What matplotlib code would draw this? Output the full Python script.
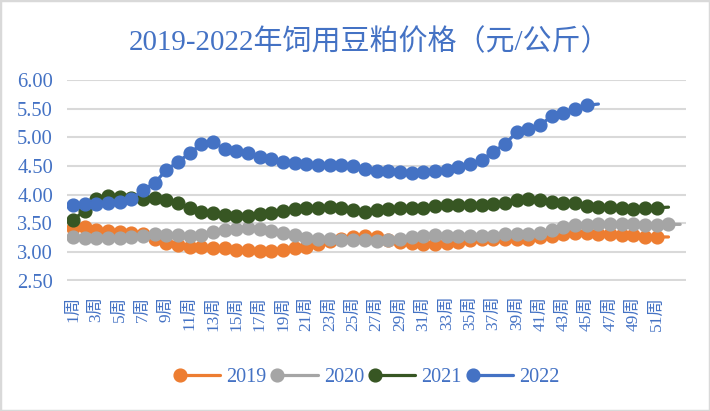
import matplotlib
matplotlib.use("Agg")
import matplotlib.pyplot as plt
from matplotlib.legend_handler import HandlerBase
from matplotlib.lines import Line2D
from matplotlib.patches import Rectangle

weeks = [f"{i}周" for i in range(1, 53)] + [""]

y2019 = [3.42, 3.43, 3.38, 3.36, 3.35, 3.33, 3.31, 3.22, 3.16, 3.12,
         3.09, 3.09, 3.07, 3.06, 3.04, 3.03, 3.02, 3.02, 3.03, 3.06,
         3.09, 3.14, 3.19, 3.23, 3.26, 3.28, 3.26, 3.20, 3.17, 3.15,
         3.13, 3.13, 3.16, 3.17, 3.20, 3.22, 3.23, 3.23, 3.23, 3.23,
         3.26, 3.28, 3.31, 3.33, 3.33, 3.32, 3.31, 3.29, 3.29, 3.26,
         3.26, 3.26]
y2020 = [3.26, 3.25, 3.25, 3.25, 3.25, 3.26, 3.27, 3.31, 3.30, 3.29,
         3.27, 3.29, 3.35, 3.38, 3.40, 3.41, 3.40, 3.37, 3.33, 3.29,
         3.25, 3.22, 3.22, 3.21, 3.21, 3.21, 3.19, 3.21, 3.23, 3.26,
         3.28, 3.29, 3.28, 3.27, 3.27, 3.27, 3.27, 3.31, 3.32, 3.32,
         3.33, 3.39, 3.44, 3.47, 3.47, 3.48, 3.48, 3.48, 3.48, 3.47,
         3.47, 3.48, 3.48]
y2021 = [3.55, 3.72, 3.93, 3.97, 3.96, 3.94, 3.93, 3.94, 3.91, 3.85,
         3.77, 3.70, 3.67, 3.65, 3.62, 3.63, 3.66, 3.68, 3.72, 3.75,
         3.76, 3.77, 3.78, 3.77, 3.73, 3.70, 3.73, 3.75, 3.76, 3.76,
         3.77, 3.80, 3.81, 3.81, 3.82, 3.82, 3.83, 3.86, 3.91, 3.93,
         3.90, 3.87, 3.86, 3.85, 3.80, 3.79, 3.78, 3.76, 3.75, 3.76,
         3.77, 3.78]
y2022 = [3.81, 3.83, 3.84, 3.86, 3.87, 3.92, 4.08, 4.20, 4.43, 4.57,
         4.72, 4.88, 4.91, 4.80, 4.76, 4.72, 4.66, 4.62, 4.56, 4.55,
         4.53, 4.52, 4.52, 4.52, 4.50, 4.45, 4.41, 4.42, 4.40, 4.38,
         4.40, 4.41, 4.43, 4.49, 4.53, 4.60, 4.75, 4.88, 5.09, 5.14,
         5.21, 5.37, 5.42, 5.49, 5.56, 5.58]

series_names = ["2019", "2020", "2021", "2022"]
series_values = [y2019, y2020, y2021, y2022]
colors = ["#ED7D31", "#A5A5A5", "#375623", "#4472C4"]
yticks = [2.50, 3.00, 3.50, 4.00, 4.50, 5.00, 5.50, 6.00]

TEXT = "#4472C4"
SERIF = ["Liberation Serif", "Noto Sans CJK SC"]
plt.rcParams["font.family"] = SERIF

fig = plt.figure(figsize=(7.10, 4.11), dpi=100)
W, H = 710, 411
ax = fig.add_axes([67 / W, 1 - 280.5 / H, (686 - 67) / W, (280.5 - 80) / H])

for name, vals, c in zip(series_names, series_values, colors):
    x = list(range(len(vals)))
    ax.plot(x, vals, color=c, lw=2.3, marker="o", ms=9.2,
            markevery=list(range(len(vals) - 1)), label=name,
            solid_capstyle="round", zorder=3)

ax.set_xlim(-0.5, len(weeks) - 0.5)
ax.set_ylim(2.5, 6.0)
ax.set_yticks(yticks)
ax.set_yticklabels([f"{v:.2f}" for v in yticks])
ax.grid(axis="y", color="#D9D9D9", lw=1.5)
ax.set_axisbelow(True)
for s in ax.spines.values():
    s.set_visible(False)
ax.tick_params(axis="y", length=0, pad=10, labelsize=14.8, labelcolor=TEXT)

tick_idx = list(range(0, len(weeks), 2))
ax.set_xticks(tick_idx)
ax.set_xticklabels([weeks[i] for i in tick_idx], rotation=90, va="top", ha="center")
ax.tick_params(axis="x", length=0, pad=11, labelsize=12.5, labelcolor=TEXT)

fig.text(369 / W, 1 - 42 / H, "2019-2022年饲用豆粕价格（元/公斤）", ha="center", va="center",
         fontsize=20.9, color=TEXT, family=SERIF)


class LeftMarkerHandler(HandlerBase):
    def create_artists(self, legend, orig_handle, xdescent, ydescent, width,
                       height, fontsize, trans):
        y = height / 2 - ydescent
        x0 = -xdescent
        x1 = -xdescent + width
        line = Line2D([x0, x1], [y, y], color=orig_handle.get_color(),
                      lw=orig_handle.get_linewidth(), solid_capstyle="round")
        mk = Line2D([x0], [y], color=orig_handle.get_color(), linestyle="none",
                    marker="o", markersize=orig_handle.get_markersize())
        line.set_transform(trans)
        mk.set_transform(trans)
        return [line, mk]


handles, labels = ax.get_legend_handles_labels()
leg = fig.legend(handles, labels, loc="center", bbox_to_anchor=(0.5205, 1 - 377 / H),
                 ncol=4, frameon=False, fontsize=14.5, handlelength=2.0,
                 handletextpad=0.3, columnspacing=0.55,
                 handler_map={Line2D: LeftMarkerHandler()})
for t in leg.get_texts():
    t.set_color(TEXT)

fig.patches.append(Rectangle((0, 0), 1, 1, transform=fig.transFigure, fill=False,
                             edgecolor="#D9D9D9", lw=2.5))

fig.savefig("out.png", dpi=100)
